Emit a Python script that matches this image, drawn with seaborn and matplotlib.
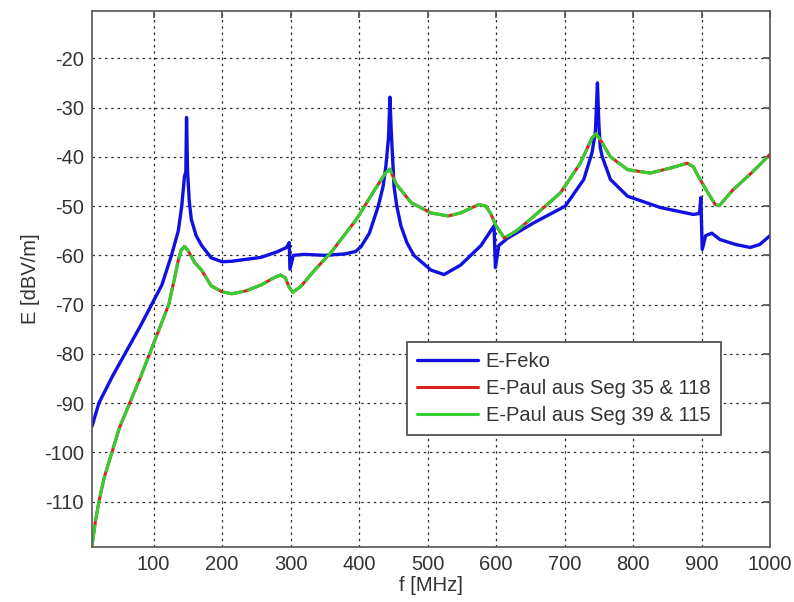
import matplotlib
matplotlib.use("Agg")
import matplotlib.pyplot as plt
import seaborn as sns

# E-Feko
f_feko = [10, 20, 40, 58, 80, 97, 112, 126, 136, 141, 145, 147, 148, 149.5, 152, 155, 162, 170,
          184, 200, 214, 257, 280, 294, 298, 299, 304, 320, 350, 380, 395, 403, 415, 428, 435,
          439, 443, 445, 447, 451, 455, 461, 470, 480, 505, 524, 548, 578, 597, 599, 604, 617,
          655, 701, 728, 740, 745, 748, 750, 752, 755, 767, 792, 840, 888, 897, 899, 901, 906,
          915, 927, 950, 971, 985, 1000]
e_feko = [-94.7, -90, -84.5, -80, -74.5, -70, -66, -60, -55, -50, -44, -43, -32, -43, -49, -52.7,
          -56, -58, -60.5, -61.3, -61.2, -60.4, -59.3, -58.4, -57.4, -62.8, -60, -59.8, -60,
          -59.7, -59.2, -58.2, -55.5, -50, -46, -42, -36, -27.9, -35, -46, -50, -54, -57.5, -60,
          -63, -63.9, -62, -58, -54, -62.5, -58, -56.5, -53.4, -50, -44.6, -39.2, -35, -25, -33,
          -38, -40, -44.6, -48, -50.3, -51.7, -51.5, -48.3, -58.8, -56, -55.5, -56.8, -57.8,
          -58.4, -57.8, -56]

# E-Paul (both segment pairs overlap in the picture)
f_paul = [10, 15, 20, 28, 39, 50, 65, 80, 94, 108, 122, 130, 136, 140, 145, 150, 160, 170, 184,
          200, 214, 235, 257, 275, 285, 292, 298, 303, 315, 335, 359, 396, 420, 439, 445, 454,
          476, 505, 530, 548, 565, 575, 585, 592, 600, 612, 630, 650, 694, 723, 740, 746, 752,
          767, 792, 825, 854, 879, 888, 893, 908, 920, 926, 946, 975, 1000]
e_paul_35_118 = [-119, -114, -110, -105, -100, -95, -90, -85, -80, -75, -70, -65, -61, -59, -58.2,
                 -59, -61.5, -63, -66.2, -67.4, -67.8, -67.2, -66, -64.6, -64, -64.5, -66.5, -67.5,
                 -66.3, -63, -59.4, -52.7, -47.3, -43.2, -42.5, -45.5, -49.3, -51.4, -52, -51.4,
                 -50.3, -49.7, -50, -51.5, -54, -56.5, -55, -52.7, -47.3, -41.3, -36.2, -35.3,
                 -36.5, -40, -42.6, -43.3, -42.3, -41.3, -42, -43.4, -47, -49.7, -49.9, -46.7,
                 -43, -39.5]
e_paul_39_115 = list(e_paul_35_118)

x_ticks = [100, 200, 300, 400, 500, 600, 700, 800, 900, 1000]
y_ticks = [-110, -100, -90, -80, -70, -60, -50, -40, -30, -20]

sns.set_theme(style="white")
plt.rcParams["font.family"] = ["Liberation Sans", "DejaVu Sans"]
plt.rcParams["axes.unicode_minus"] = False

fig = plt.figure(figsize=(7.94, 6.02), dpi=100)
ax = fig.add_axes([0.1159, 0.0914, 0.8539, 0.8903])

sns.lineplot(x=f_feko, y=e_feko, ax=ax, color="#1010e0", linewidth=2.4,
             estimator=None, sort=False, label="E-Feko")
sns.lineplot(x=f_paul, y=e_paul_35_118, ax=ax, color="#e02020", linewidth=2.2,
             estimator=None, sort=False, label="E-Paul aus Seg 35 & 118")
sns.lineplot(x=f_paul, y=e_paul_39_115, ax=ax, color="#30d030", linewidth=2.2,
             estimator=None, sort=False, label="E-Paul aus Seg 39 & 115")
ax.lines[2].set_dashes([7, 1.2])

ax.set_xlim(10, 1000)
ax.set_ylim(-119.2, -10.4)
ax.set_xticks(x_ticks)
ax.set_yticks(y_ticks)
ax.grid(True, color="#303030", linestyle=(0, (2, 3)), linewidth=0.9)
for s in ax.spines.values():
    s.set_color("#555555")
    s.set_linewidth(1.2)
ax.tick_params(direction="in", top=True, right=True, length=5, color="#555555",
               labelsize=14.5, labelcolor="#333333", pad=6)
ax.set_xlabel("f [MHz]", fontsize=14.5, color="#333333", labelpad=1)
ax.set_ylabel("E [dBV/m]", fontsize=14.5, color="#333333", labelpad=3)

leg = ax.legend(loc="lower left", bbox_to_anchor=(0.465, 0.209), borderaxespad=0,
                fontsize=14.5, fancybox=False, framealpha=1, edgecolor="#444444",
                handlelength=3.0, handletextpad=0.4, labelspacing=0.4, borderpad=0.5)
leg.get_frame().set_linewidth(1.2)
for t in leg.get_texts():
    t.set_color("#333333")
for h in leg.get_lines():
    h.set_dashes([])

fig.savefig("out.png", dpi=100)
